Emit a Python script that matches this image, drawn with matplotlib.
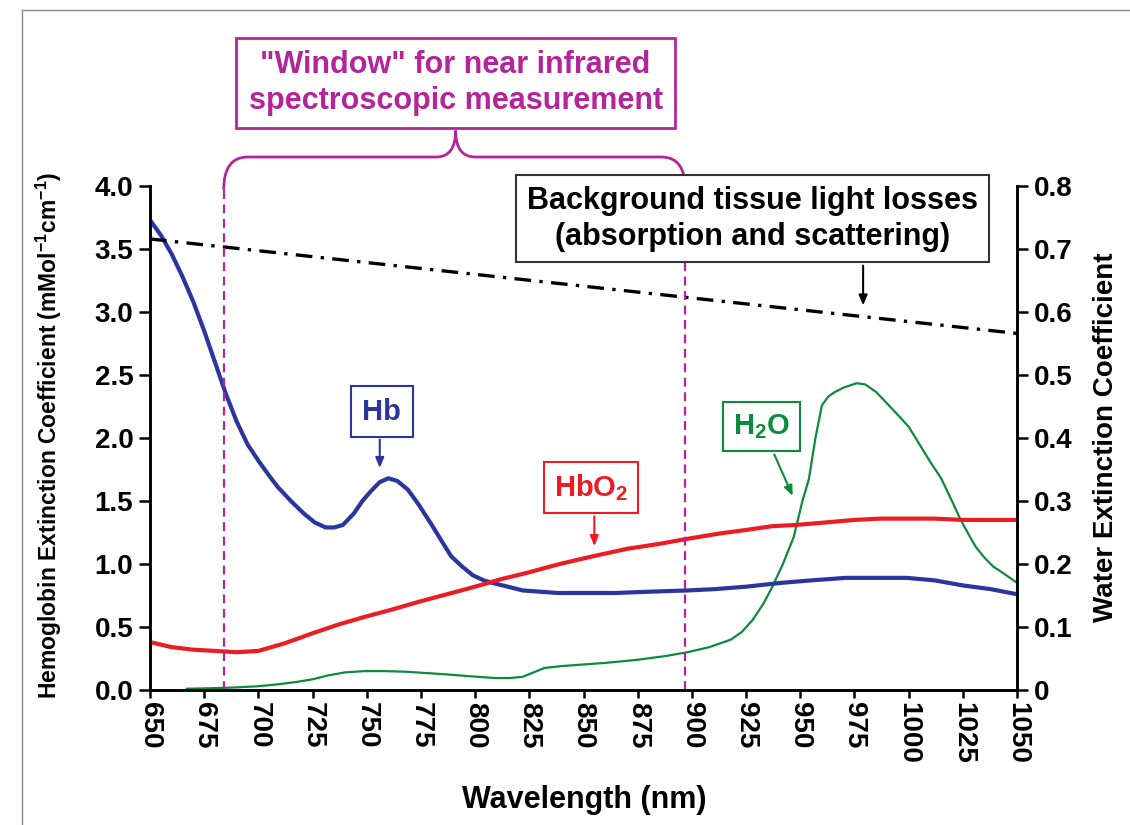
import matplotlib
matplotlib.use("Agg")
import matplotlib.pyplot as plt
from matplotlib.path import Path
from matplotlib.patches import PathPatch
from matplotlib.lines import Line2D

plt.rcParams['font.family'] = ['Liberation Sans', 'DejaVu Sans']
plt.rcParams['font.weight'] = 'bold'
plt.rcParams['mathtext.fontset'] = 'custom'
plt.rcParams['mathtext.rm'] = 'Liberation Sans:bold'
plt.rcParams['mathtext.bf'] = 'Liberation Sans:bold'
plt.rcParams['mathtext.it'] = 'Liberation Sans:bold'
plt.rcParams['mathtext.default'] = 'bf'

# ---------------- data ----------------
hb_wl = [650, 655, 660, 665, 670, 675, 680, 685, 690, 695, 700, 705, 709, 715, 721,
         726, 731, 735, 739, 744, 748, 752, 756, 760, 764, 769, 774, 780, 785, 789,
         794, 799, 804, 808, 815, 822, 830, 838, 846, 854, 865, 880, 898, 910, 925,
         941, 955, 971, 985, 999, 1012, 1025, 1038, 1050]
hb_val = [3.73, 3.61, 3.46, 3.28, 3.08, 2.85, 2.60, 2.35, 2.13, 1.95, 1.82, 1.70,
          1.61, 1.50, 1.40, 1.33, 1.29, 1.29, 1.31, 1.40, 1.50, 1.58, 1.65, 1.68,
          1.66, 1.59, 1.47, 1.31, 1.17, 1.06, 0.98, 0.91, 0.87, 0.85, 0.82, 0.79,
          0.78, 0.77, 0.77, 0.77, 0.77, 0.78, 0.79, 0.80, 0.82, 0.85, 0.87, 0.89,
          0.89, 0.89, 0.87, 0.83, 0.80, 0.76]

hbo2_wl = [650, 660, 670, 680, 690, 700, 712, 725, 737, 749, 762, 774, 787, 800,
           812, 824, 839, 854, 870, 885, 898, 912, 925, 937, 948, 962, 975, 987,
           1000, 1012, 1025, 1037, 1050]
hbo2_val = [0.38, 0.34, 0.32, 0.31, 0.30, 0.31, 0.37, 0.45, 0.52, 0.58, 0.64, 0.70,
            0.76, 0.82, 0.88, 0.93, 1.00, 1.06, 1.12, 1.16, 1.20, 1.24, 1.27, 1.30,
            1.31, 1.33, 1.35, 1.36, 1.36, 1.36, 1.35, 1.35, 1.35]

h2o_wl = [667, 680, 689, 700, 709, 718, 725, 732, 740, 749, 758, 768, 777, 786, 797,
          809, 816, 822, 827, 832, 840, 848, 860, 875, 888, 898, 908, 918, 923, 928,
          933, 937, 942, 947, 951, 954, 957, 960, 963, 966, 970, 976, 980, 985, 990,
          996, 1000, 1005, 1010, 1015, 1020, 1024, 1028, 1031, 1035, 1039, 1043,
          1048, 1050]
h2o_val = [0.002, 0.003, 0.004, 0.006, 0.009, 0.013, 0.017, 0.023, 0.028, 0.030,
           0.030, 0.029, 0.027, 0.025, 0.022, 0.019, 0.019, 0.021, 0.028, 0.035,
           0.038, 0.040, 0.043, 0.048, 0.054, 0.060, 0.068, 0.080, 0.092, 0.111,
           0.137, 0.163, 0.200, 0.243, 0.300, 0.335, 0.400, 0.452, 0.466, 0.473,
           0.480, 0.487, 0.485, 0.473, 0.455, 0.433, 0.418, 0.390, 0.362, 0.336,
           0.300, 0.270, 0.245, 0.227, 0.210, 0.196, 0.187, 0.175, 0.170]

bg_wl = [650, 1050]
bg_val = [3.58, 2.83]

window_nm = [684, 897]

x_ticks = list(range(650, 1051, 25))
y_ticks = [0.0, 0.5, 1.0, 1.5, 2.0, 2.5, 3.0, 3.5, 4.0]
y_tick_labels = ['0.0', '0.5', '1.0', '1.5', '2.0', '2.5', '3.0', '3.5', '4.0']
y2_ticks = [0, 0.1, 0.2, 0.3, 0.4, 0.5, 0.6, 0.7, 0.8]
y2_tick_labels = ['0', '0.1', '0.2', '0.3', '0.4', '0.5', '0.6', '0.7', '0.8']

BLUE = '#2b359e'
RED = '#ec1c24'
GREEN = '#0e8a3c'
MAG = '#b4259b'

# ---------------- figure ----------------
fig = plt.figure(figsize=(11.3, 8.25), dpi=100)
ax = fig.add_axes([150/1130, 1-690/825, 867/1130, 504/825])
ax2 = ax.twinx()

ax2.plot(h2o_wl, h2o_val, color=GREEN, lw=1.6)
ax.plot(hb_wl, hb_val, color=BLUE, lw=3.0, solid_capstyle='butt', solid_joinstyle='round')
ax.plot(hbo2_wl, hbo2_val, color=RED, lw=3.0, solid_capstyle='butt', solid_joinstyle='round')
ax.plot(bg_wl, bg_val, color='black', lw=2.4, dashes=(5, 2.5, 1, 2.5))

ax.set_zorder(ax2.get_zorder() + 1)
ax.patch.set_visible(False)

ax.set_xlim(650, 1050)
ax.set_ylim(0, 4)
ax2.set_ylim(0, 0.8)

for a in (ax, ax2):
    a.spines['top'].set_visible(False)
    for s in a.spines.values():
        s.set_linewidth(1.8)

ax.set_xticks(x_ticks)
ax.set_xticklabels([str(t) for t in x_ticks], rotation=-90, fontsize=20, fontweight='bold')
ax.set_yticks(y_ticks)
ax.set_yticklabels(y_tick_labels, fontsize=20, fontweight='bold')
ax2.set_yticks(y2_ticks)
ax2.set_yticklabels(y2_tick_labels, fontsize=20, fontweight='bold')
ax.tick_params(axis='x', direction='out', length=6, width=1.8, pad=3)
ax.tick_params(axis='y', direction='out', length=8, width=1.8, pad=4)
ax2.tick_params(axis='y', direction='out', length=8, width=1.8, pad=4)

ax.set_xlabel('Wavelength (nm)', fontsize=22, fontweight='bold')
ax.xaxis.set_label_coords(0.501, -0.188)
ax.set_ylabel(r'Hemoglobin Extinction Coefficient (mMol$^{-1}$cm$^{-1}$)',
              fontsize=16.5, fontweight='bold')
ax.yaxis.set_label_coords(-0.099, 0.506)
ax2.set_ylabel('Water Extinction Coefficient', fontsize=20, fontweight='bold', rotation=90)
ax2.yaxis.set_label_coords(1.088, 0.502)

# ---------------- window lines and bracket ----------------
for xw in window_nm:
    ax.plot([xw, xw], [0, 3.97], color=MAG, lw=1.6, dashes=(4, 2.5), clip_on=False)

yc = 4.23
ytop = 4.44
xl, xr = window_nm
xm = (xl + xr) / 2 + 0.5
verts = [(xl, 3.97), (xl, yc), (xl + 11, yc),
         (xm - 9, yc), (xm, yc), (xm, ytop),
         (xm, yc), (xm + 9, yc),
         (xr - 11, yc), (xr, yc), (xr, 3.97)]
codes = [Path.MOVETO, Path.CURVE3, Path.CURVE3,
         Path.LINETO, Path.CURVE3, Path.CURVE3,
         Path.CURVE3, Path.CURVE3,
         Path.LINETO, Path.CURVE3, Path.CURVE3]
ax.add_patch(PathPatch(Path(verts, codes), fill=False, edgecolor=MAG, lw=2.0, clip_on=False))

# ---------------- text boxes ----------------
ax.text(xm, 4.82, '"Window" for near infrared\nspectroscopic measurement', ha='center', va='center',
        fontsize=22, fontweight='bold', color=MAG, linespacing=1.25, clip_on=False,
        bbox=dict(boxstyle='square,pad=0.4', fc='white', ec=MAG, lw=2.0))

ax.text(928, 3.74, 'Background tissue light losses\n(absorption and scattering)', ha='center',
        va='center', fontsize=22, fontweight='bold', color='black', linespacing=1.25,
        bbox=dict(boxstyle='square,pad=0.35', fc='white', ec='#333333', lw=1.5), zorder=5)
ax.annotate('', xy=(979, 3.03), xytext=(979, 3.39),
            arrowprops=dict(arrowstyle='-|>,head_length=0.6,head_width=0.25', color='black', lw=1.5))

ax.text(757, 2.21, 'Hb', ha='center', va='center', fontsize=21, fontweight='bold', color=BLUE,
        bbox=dict(boxstyle='square,pad=0.4', fc='white', ec=BLUE, lw=1.5), zorder=5)
ax.annotate('', xy=(756, 1.74), xytext=(756, 2.01),
            arrowprops=dict(arrowstyle='-|>,head_length=0.6,head_width=0.25', color=BLUE, lw=1.5))

ax.text(853.5, 1.61, r'HbO$_2$', ha='center', va='center', fontsize=21, fontweight='bold', color=RED,
        bbox=dict(boxstyle='square,pad=0.35', fc='white', ec=RED, lw=1.5), zorder=5)
ax.annotate('', xy=(855, 1.12), xytext=(855, 1.40),
            arrowprops=dict(arrowstyle='-|>,head_length=0.6,head_width=0.25', color=RED, lw=1.5))

ax.text(932, 2.09, r'H$_2$O', ha='center', va='center', fontsize=21, fontweight='bold', color=GREEN,
        bbox=dict(boxstyle='square,pad=0.35', fc='white', ec=GREEN, lw=1.5), zorder=5)
ax.annotate('', xy=(947, 1.52), xytext=(937.5, 1.89),
            arrowprops=dict(arrowstyle='-|>,head_length=0.6,head_width=0.25', color=GREEN, lw=1.5))

# ---------------- outer frame ----------------
fx = 22 / 1130
fy = 1 - 10 / 825
fig.add_artist(Line2D([fx, fx], [0, fy], transform=fig.transFigure, color='#8a8a8a', lw=1.0))
fig.add_artist(Line2D([fx, 1], [fy, fy], transform=fig.transFigure, color='#8a8a8a', lw=1.0))

fig.savefig('out.png', dpi=100, facecolor='white')
